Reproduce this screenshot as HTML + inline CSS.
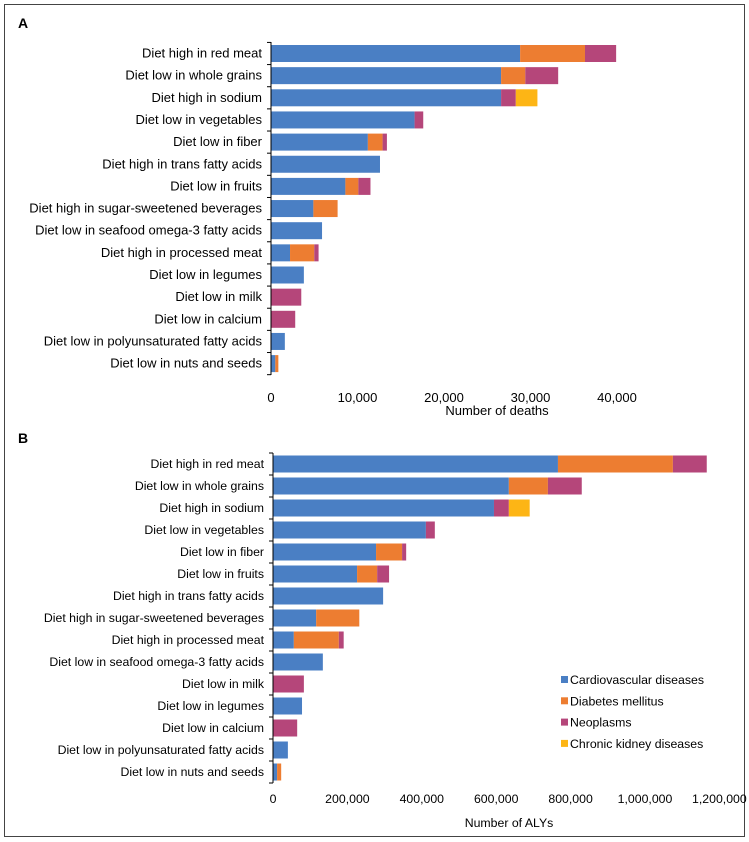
<!DOCTYPE html>
<html><head><meta charset="utf-8"><style>
body{margin:0;background:#fff;}
svg{display:block;font-family:"Liberation Sans",Arial,sans-serif;}
</style></head><body>
<svg id="chart" width="749" height="842">
<rect x="4.5" y="4.5" width="740" height="832" fill="none" stroke="#444" stroke-width="1"/>
<text x="18" y="28" font-size="14" font-weight="bold">A</text>
<text x="18" y="443" font-size="14" font-weight="bold">B</text>
<g id="legend"></g>
</svg>
<script>
const seriesNames = ["Cardiovascular diseases","Diabetes mellitus","Neoplasms","Chronic kidney diseases"];
const colors = ["#4a7fc4","#ed7d31","#b5467a","#fdb515"];

const catsA = ["Diet high in red meat","Diet low in whole grains","Diet high in sodium","Diet low in vegetables","Diet low in fiber","Diet high in trans fatty acids","Diet low in fruits","Diet high in sugar-sweetened beverages","Diet low in seafood omega-3 fatty acids","Diet high in processed meat","Diet low in legumes","Diet low in milk","Diet low in calcium","Diet low in polyunsaturated fatty acids","Diet low in nuts and seeds"];
const cvdA = [28800,26600,26600,16600,11200,12600,8600,4900,5900,2200,3800,0,0,1600,500];
const diabA = [7500,2800,0,0,1700,0,1500,2800,0,2800,0,0,0,0,350];
const neoA = [3600,3800,1700,1000,500,0,1400,0,0,500,0,3500,2800,0,0];
const ckdA = [0,0,2500,0,0,0,0,0,0,0,0,0,0,0,0];
const ticksA = [0,10000,20000,30000,40000];
const tickLabelsA = ["0","10,000","20,000","30,000","40,000"];

const catsB = ["Diet high in red meat","Diet low in whole grains","Diet high in sodium","Diet low in vegetables","Diet low in fiber","Diet low in fruits","Diet high in trans fatty acids","Diet high in sugar-sweetened beverages","Diet high in processed meat","Diet low in seafood omega-3 fatty acids","Diet low in milk","Diet low in legumes","Diet low in calcium","Diet low in polyunsaturated fatty acids","Diet low in nuts and seeds"];
const cvdB = [766000,634000,594000,411000,277000,226000,296000,116000,56000,134000,0,78000,0,40000,11000];
const diabB = [309000,105000,0,0,70000,54000,0,116000,121000,0,0,0,0,0,11000];
const neoB = [91000,91000,40000,24000,11000,32000,0,0,13000,0,83000,0,65000,0,0];
const ckdB = [0,0,56000,0,0,0,0,0,0,0,0,0,0,0,0];
const ticksB = [0,200000,400000,600000,800000,1000000,1200000];
const tickLabelsB = ["0","200,000","400,000","600,000","800,000","1,000,000","1,200,000"];

const NS="http://www.w3.org/2000/svg";
const svg=document.getElementById('chart');
function mk(tag,attrs,parent){const e=document.createElementNS(NS,tag);for(const k in attrs)e.setAttribute(k,attrs[k]);(parent||svg).appendChild(e);return e;}

function panel(id,cats,series,ticks,tickLabels,x0,pxPerUnit,yFirst,step,axisTop,axisBottom,title,titleX,titleY,tickY,fs){
  const g=mk('g',{});
  
  
  const xs=v=>x0+v*pxPerUnit;
  cats.forEach((c,i)=>{
    const yc=yFirst+i*step;
    const t=mk('text',{x:x0-9,y:yc+4,'font-size':fs,'text-anchor':'end',fill:'#000'},g);
    t.textContent=c;
    
    
    let acc=0;
    series.forEach((s,si)=>{
      const v=s[i]; if(!v) return;
      const r=mk('rect',{x:xs(acc),y:yc-8.5,width:xs(acc+v)-xs(acc),height:17,fill:colors[si]},g);
      
      
      acc+=v;
    });
  });
  const ax=mk('line',{x1:x0,x2:x0,y1:axisTop,y2:axisBottom,stroke:'#000','stroke-width':1},g);
  
  
  for(let i=0;i<=cats.length;i++){
    const y=yFirst-step/2+i*step;
    const tk=mk('line',{x1:x0-4,x2:x0,y1:y,y2:y,stroke:'#000'},g);
    
    
  }
  ticks.forEach((v,i)=>{
    const t=mk('text',{x:xs(v),y:tickY,'font-size':fs,'text-anchor':'middle'},g);
    t.textContent=tickLabels[i];
    
    
  });
  const tt=mk('text',{x:titleX,y:titleY,'font-size':fs,'text-anchor':'middle'},g);
  tt.textContent=title;
  
  
}
panel('a',catsA,[cvdA,diabA,neoA,ckdA],ticksA,tickLabelsA,271,86.5/10000,53.5,22.15,42,375,'Number of deaths',497,415,402,13);
panel('b',catsB,[cvdB,diabB,neoB,ckdB],ticksB,tickLabelsB,273,74.4/200000,464,22.0,453,783,'Number of ALYs',509,827,803,12.3);

const lg=document.getElementById('legend');
seriesNames.forEach((n,i)=>{
  const y=680+i*21.3;
  const r=mk('rect',{x:561,y:y-4,width:7,height:7,fill:colors[i]},lg);
  
  
  const t=mk('text',{x:570,y:y+4,'font-size':12.3},lg);
  t.textContent=n;
  
  
});
</script>
</body></html>
